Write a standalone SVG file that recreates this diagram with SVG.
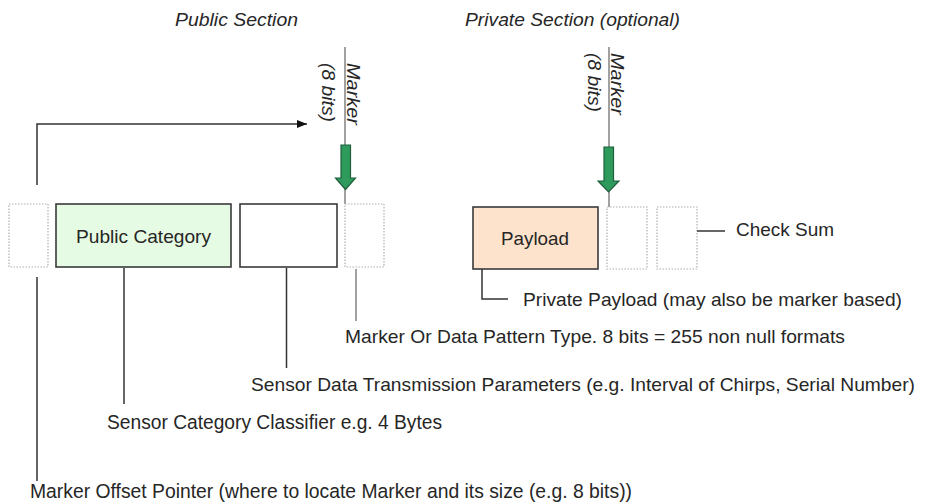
<svg xmlns="http://www.w3.org/2000/svg" width="925" height="504" viewBox="0 0 925 504">
<style>
text{font-family:"Liberation Sans",Arial,sans-serif;font-size:19px;fill:#262626}
.it{font-style:italic}
.tall{font-size:20.5px}
.box{stroke:#3a3a3a;stroke-width:1.6}
.dot{fill:#fff;stroke:#b0b0b0;stroke-width:1.2;stroke-dasharray:1.5 1.5}
.ln{fill:none;stroke:#333;stroke-width:1.5}
.thin{fill:none;stroke:#555;stroke-width:1.1}
.grn{fill:#2e9a5c;stroke:#1f5f3c;stroke-width:1.2}
</style>
<defs>
<marker id="ah" viewBox="0 0 10 8" refX="10" refY="4" markerWidth="10" markerHeight="8" markerUnits="userSpaceOnUse" orient="auto">
<path d="M0,0 L10,4 L0,8 Z" fill="#111"/>
</marker>
</defs>

<g id="titles">
<text class="it" x="175" y="26" textLength="123" lengthAdjust="spacingAndGlyphs">Public Section</text>
<text class="it" x="465" y="26" textLength="215" lengthAdjust="spacingAndGlyphs">Private Section (optional)</text>
</g>

<g id="marker-public">
<line class="thin" x1="345" y1="47" x2="345" y2="204"/>
<path class="grn" d="M341,145 H350.5 V178 H355.5 L345.5,189.5 L335.5,178 H341 Z"/>
<text class="it" transform="translate(347,63) rotate(90)" textLength="62" lengthAdjust="spacingAndGlyphs">Marker</text>
<text class="it" transform="translate(322,63) rotate(90)" textLength="59" lengthAdjust="spacingAndGlyphs">(8 bits)</text>
</g>

<g id="marker-private">
<line class="thin" x1="609" y1="47" x2="609" y2="208"/>
<path class="grn" d="M604,147 H613.5 V181 H619 L608.5,192 L598,181 H604 Z"/>
<text class="it" transform="translate(611,53) rotate(90)" textLength="62" lengthAdjust="spacingAndGlyphs">Marker</text>
<text class="it" transform="translate(588,53) rotate(90)" textLength="59" lengthAdjust="spacingAndGlyphs">(8 bits)</text>
</g>

<g id="offset-box"><rect class="dot" x="9" y="204" width="39" height="63"/></g>
<g id="public-category"><rect class="box" x="56" y="204" width="175" height="63" fill="#e6fbe3"/>
<text x="143.5" y="243" text-anchor="middle" textLength="135" lengthAdjust="spacingAndGlyphs">Public Category</text></g>
<g id="params-box"><rect class="box" x="240" y="204" width="97" height="63" fill="#fff"/></g>
<g id="marker-box"><rect class="dot" x="345" y="204" width="39" height="63"/></g>

<g id="payload"><rect class="box" x="473" y="207" width="125" height="62" fill="#fde3cc"/>
<text x="535" y="245" text-anchor="middle" textLength="68" lengthAdjust="spacingAndGlyphs">Payload</text></g>
<g id="private-marker-box"><rect class="dot" x="607" y="207" width="40" height="62"/></g>
<g id="checksum-box"><rect class="dot" x="657" y="207" width="40" height="62"/></g>

<g id="connectors">
<path class="ln" d="M37,185 V124 H307" marker-end="url(#ah)"/>
<line class="ln" x1="37" y1="277" x2="37" y2="481"/>
<line class="ln" x1="124" y1="268" x2="124" y2="404"/>
<line class="ln" x1="286.5" y1="268" x2="286.5" y2="368"/>
<line class="thin" x1="356" y1="269" x2="356" y2="321"/>
<path class="ln" d="M482,269 V299 H508"/>
<line class="ln" x1="697" y1="231" x2="725" y2="231"/>
</g>

<g id="labels">
<text x="736" y="236" textLength="98" lengthAdjust="spacingAndGlyphs">Check Sum</text>
<text x="523" y="306" textLength="379" lengthAdjust="spacingAndGlyphs">Private Payload (may also be marker based)</text>
<text x="345" y="343" textLength="500" lengthAdjust="spacingAndGlyphs">Marker Or Data Pattern Type.  8 bits = 255 non null  formats</text>
<text x="251" y="391" font-size="19.5" textLength="664" lengthAdjust="spacingAndGlyphs">Sensor Data Transmission  Parameters (e.g. Interval  of Chirps, Serial Number)</text>
<text class="tall" x="107" y="429" textLength="335" lengthAdjust="spacingAndGlyphs">Sensor Category Classifier e.g. 4 Bytes</text>
<text class="tall" x="30" y="498" textLength="602" lengthAdjust="spacingAndGlyphs">Marker Offset  Pointer (where to locate Marker and its size (e.g. 8 bits))</text>
</g>
</svg>
